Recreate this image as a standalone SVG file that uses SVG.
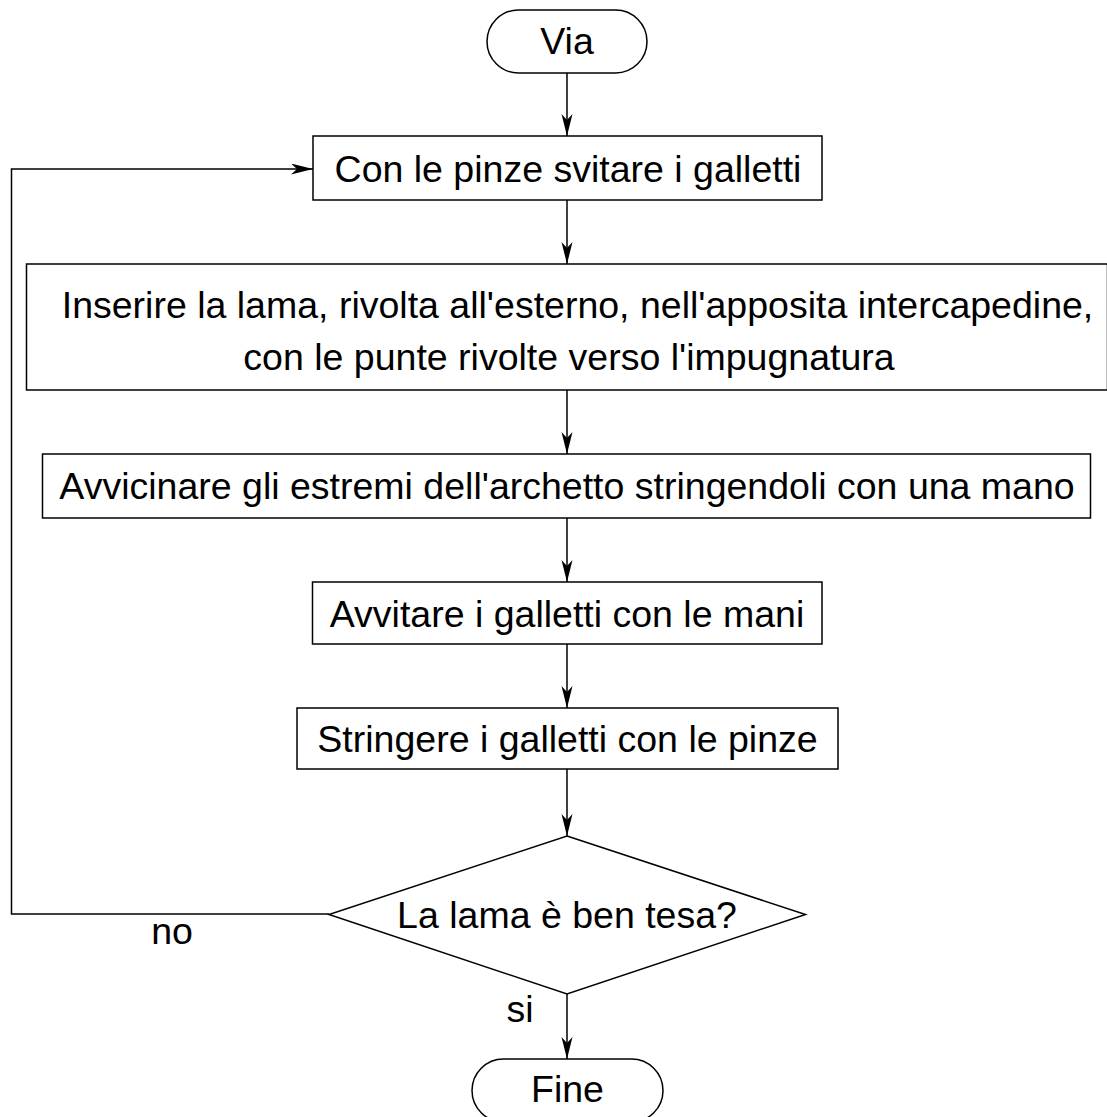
<svg xmlns="http://www.w3.org/2000/svg" width="1107" height="1117" viewBox="0 0 1107 1117">
<style>
.s{fill:#fff;stroke:#000;stroke-width:1.5}
.t{font-family:"Liberation Sans",Arial,sans-serif;font-size:37.5px;fill:#000;text-anchor:middle}
.c{fill:none;stroke:#000;stroke-width:1.5}
</style>
<defs>
<marker id="a" markerUnits="userSpaceOnUse" markerWidth="24" markerHeight="12" refX="22" refY="5.5" orient="auto">
<path d="M0,0 L22,5.5 L0,11 L6,5.5 z" fill="#000"/>
</marker>
</defs>
<rect width="1107" height="1117" fill="#fff"/>
<g id="connectors">
<line class="c" x1="567" y1="73" x2="567" y2="136" marker-end="url(#a)"/>
<line class="c" x1="567" y1="200" x2="567" y2="264" marker-end="url(#a)"/>
<line class="c" x1="567" y1="390" x2="567" y2="454" marker-end="url(#a)"/>
<line class="c" x1="567" y1="518" x2="567" y2="582" marker-end="url(#a)"/>
<line class="c" x1="567" y1="644" x2="567" y2="708" marker-end="url(#a)"/>
<line class="c" x1="567" y1="769" x2="567" y2="836" marker-end="url(#a)"/>
<line class="c" x1="567" y1="994" x2="567" y2="1059" marker-end="url(#a)"/>
<polyline class="c" points="329,914 11.5,914 11.5,169 313,169" marker-end="url(#a)"/>
<text class="t" x="172" y="944">no</text>
<text class="t" x="520" y="1022">si</text>
</g>
<g id="start">
<rect class="s" x="487" y="10" width="160" height="63" rx="31.5" ry="31.5"/>
<text class="t" x="567" y="54">Via</text>
</g>
<g id="box1">
<rect class="s" x="313" y="136" width="509" height="64"/>
<text class="t" x="568" y="182">Con le pinze svitare i galletti</text>
</g>
<g id="box2">
<rect class="s" x="26.5" y="264" width="1081" height="126"/>
<text class="t" x="577.5" y="318">Inserire la lama, rivolta all'esterno, nell'apposita intercapedine,</text>
<text class="t" x="569" y="370">con le punte rivolte verso l'impugnatura</text>
</g>
<g id="box3">
<rect class="s" x="42.5" y="454" width="1048" height="64"/>
<text class="t" x="567" y="499">Avvicinare gli estremi dell'archetto stringendoli con una mano</text>
</g>
<g id="box4">
<rect class="s" x="312.5" y="582" width="509.5" height="62"/>
<text class="t" x="567" y="627">Avvitare i galletti con le mani</text>
</g>
<g id="box5">
<rect class="s" x="297" y="708" width="541" height="61"/>
<text class="t" x="567.5" y="752">Stringere i galletti con le pinze</text>
</g>
<g id="decision">
<polygon class="s" points="567,836 805.5,914.5 567,994 329,914.5"/>
<text class="t" x="567" y="928">La lama è ben tesa?</text>
</g>
<g id="end">
<rect class="s" x="472" y="1059" width="191" height="63" rx="31.5" ry="31.5"/>
<text class="t" x="567.5" y="1102">Fine</text>
</g>
</svg>
